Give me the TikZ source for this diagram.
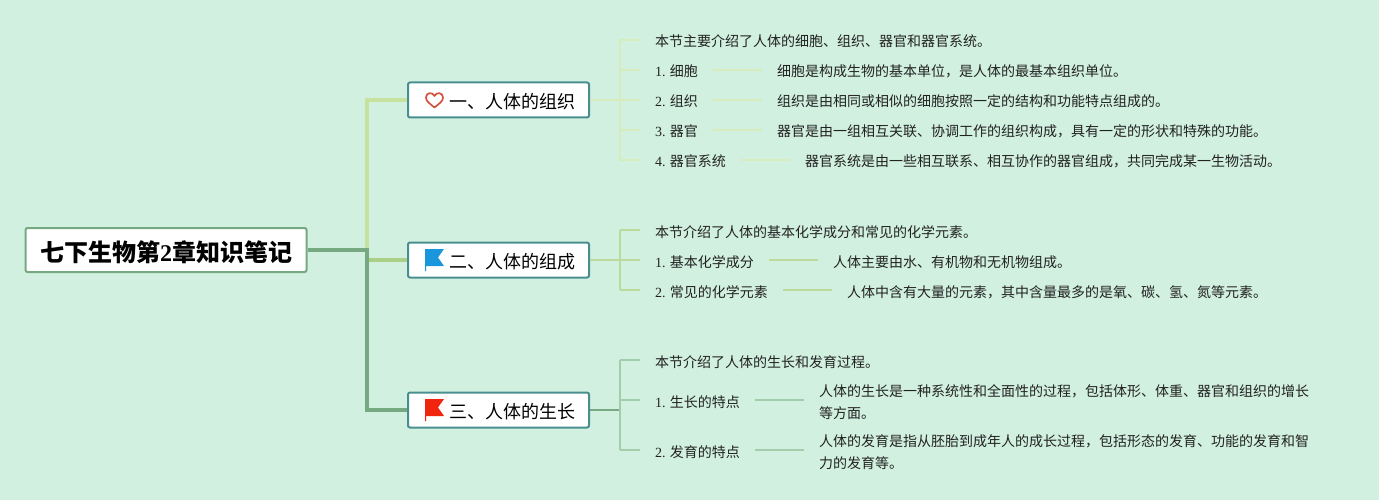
\documentclass[tikz,border=0pt]{standalone}
\usepackage{fontspec}
\setmainfont{Noto Sans CJK SC}
\newfontfamily\latn{Liberation Serif}
\definecolor{bg}{HTML}{D1F0E0}
\definecolor{rootc}{HTML}{76A982}
\definecolor{mainb}{HTML}{4A8F90}
\definecolor{ca}{HTML}{C6E29E}
\definecolor{cb}{HTML}{AACF86}
\definecolor{la}{HTML}{D8EBBC}
\definecolor{lb}{HTML}{BBDB9C}
\definecolor{lc}{HTML}{A2CDAB}
\definecolor{ink}{HTML}{222222}
\definecolor{heartc}{HTML}{D4533F}
\definecolor{flagb}{HTML}{1A96DC}
\definecolor{flagr}{HTML}{F0240F}
\tikzset{
  x=1pt,y=-1pt,
  rootbox/.style={draw=rootc,line width=2pt,fill=white,rounded corners=2pt,minimum width=281pt,minimum height=44pt,inner sep=0pt,text height=23pt,text depth=1pt,font=\fontsize{24}{28}\selectfont\bfseries,text=black},
  mainbox/.style={draw=mainb,line width=2pt,fill=white,rounded corners=2pt,minimum height=35pt,inner xsep=14pt,inner ysep=0pt,text height=18pt,text depth=0.4pt,text width=153pt,align=right,font=\fontsize{18}{22}\selectfont,text=black},
  leaf/.style={anchor=west,inner sep=0pt,text height=16pt,text depth=2pt,font=\fontsize{14}{22}\selectfont,text=ink},
  leaftwo/.style={anchor=west,inner sep=0pt,align=left,font=\fontsize{14}{22}\selectfont,text=ink},
  trunk/.style={line width=4pt,line join=miter},
  twig/.style={line width=1.3pt},
}
\newcommand{\flagicon}[3]{\fill[#3] (#1,#2) -- ++(19,0) -- ++(-6,8.5) -- ++(6,8.5) -- ++(-18,0) -- ++(0,5) -- ++(-1,0) -- cycle;}
\begin{document}
\begin{tikzpicture}
\useasboundingbox[fill=bg] (0,0) rectangle (1379,500);
% nodes
\node[rootbox] (root) at (166,250) {七下生物第{\latn 2}章知识笔记};
\node[mainbox] (m1) at (498.5,100) {一、人体的组织};
\node[mainbox] (m2) at (498.5,260) {二、人体的组成};
\node[mainbox] (m3) at (498.5,410) {三、人体的生长};
\coordinate (r1) at (367,250);
\coordinate (t1) at (367,100);
\coordinate (t2) at (367,260);
\coordinate (t3) at (367,410);
% section 1
\node[leaf] (a0) at (655,40) {本节主要介绍了人体的细胞、组织、器官和器官系统。};
\node[leaf] (a1) at (655,70) {{\latn 1.} 细胞};
\node[leaf] (a2) at (655,100) {{\latn 2.} 组织};
\node[leaf] (a3) at (655,130) {{\latn 3.} 器官};
\node[leaf] (a4) at (655,160) {{\latn 4.} 器官系统};
\node[leaf] (d1) at (777,70) {细胞是构成生物的基本单位，是人体的最基本组织单位。};
\node[leaf] (d2) at (777,100) {组织是由相同或相似的细胞按照一定的结构和功能特点组成的。};
\node[leaf] (d3) at (777,130) {器官是由一组相互关联、协调工作的组织构成，具有一定的形状和特殊的功能。};
\node[leaf] (d4) at (805,160) {器官系统是由一些相互联系、相互协作的器官组成，共同完成某一生物活动。};
% section 2
\node[leaf] (b0) at (655,230) {本节介绍了人体的基本化学成分和常见的化学元素。};
\node[leaf] (b1) at (655,260) {{\latn 1.} 基本化学成分};
\node[leaf] (b2) at (655,290) {{\latn 2.} 常见的化学元素};
\node[leaf] (e1) at (833,260) {人体主要由水、有机物和无机物组成。};
\node[leaf] (e2) at (847,290) {人体中含有大量的元素，其中含量最多的是氧、碳、氢、氮等元素。};
% section 3
\node[leaf] (c0) at (655,360) {本节介绍了人体的生长和发育过程。};
\node[leaf] (c1) at (655,400) {{\latn 1.} 生长的特点};
\node[leaf] (c2) at (655,450) {{\latn 2.} 发育的特点};
\node[leaftwo] (f1) at (819,402) {人体的生长是一种系统性和全面性的过程，包括体形、体重、器官和组织的增长\\等方面。};
\node[leaftwo] (f2) at (819,452) {人体的发育是指从胚胎到成年人的成长过程，包括形态的发育、功能的发育和智\\力的发育等。};
% trunk
\draw[trunk,ca] (r1) -- (t1) -- (m1.west);
\draw[trunk,cb] (t2) -- (m2.west);
\draw[trunk,rootc] (root.east) -- (r1) -- (t3) -- (m3.west);
% section 1 twigs
\coordinate (ja) at (620,100);
\draw[twig,la] (m1.east) -- (ja);
\draw[twig,la] (a0.west-|ja) -- (a4.west-|ja);
\foreach \n in {a0,a1,a2,a3,a4} \draw[twig,la] (\n.west-|ja) -- ([xshift=-15pt]\n.west);
\foreach \p/\q in {a1/d1,a2/d2,a3/d3,a4/d4} \draw[twig,la] ([xshift=15pt]\p.east) -- ([xshift=-15pt]\q.west);
% section 2 twigs
\coordinate (jb) at (620,260);
\draw[twig,lb] (m2.east) -- (jb);
\draw[twig,lb] (b0.west-|jb) -- (b2.west-|jb);
\foreach \n in {b0,b1,b2} \draw[twig,lb] (\n.west-|jb) -- ([xshift=-15pt]\n.west);
\foreach \p/\q in {b1/e1,b2/e2} \draw[twig,lb] ([xshift=15pt]\p.east) -- ([xshift=-15pt]\q.west);
% section 3 twigs
\coordinate (jc) at (620,410);
\draw[twig,rootc] (m3.east) -- (jc);
\draw[twig,lc] (c0.west-|jc) -- (c2.west-|jc);
\foreach \n in {c0,c1,c2} \draw[twig,lc] (\n.west-|jc) -- ([xshift=-15pt]\n.west);
\foreach \p/\q in {c1/f1,c2/f2} \draw[twig,lc] ([xshift=15pt]\p.east) -- ([xshift=-15pt]\q.west|-\p.west);
% icons
\draw[line width=1.7pt,draw=heartc,line join=round] (434.5,107.5) .. controls (429,103) and (426,101) .. (426,97.5) .. controls (426,92.5) and (432.5,91.5) .. (434.5,96) .. controls (436.5,91.5) and (443,92.5) .. (443,97.5) .. controls (443,101) and (440,103) .. (434.5,107.5) -- cycle;
\flagicon{425}{249}{flagb}
\flagicon{425}{399}{flagr}
\end{tikzpicture}
\end{document}
